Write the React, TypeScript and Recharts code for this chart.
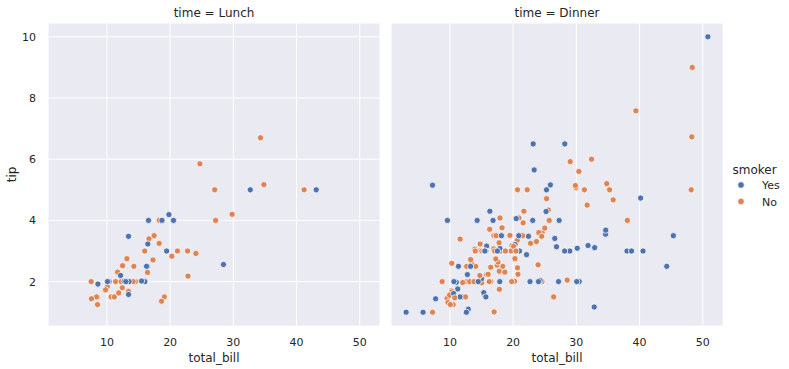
import React from 'react';
import { ScatterChart, Scatter, XAxis, YAxis, CartesianGrid } from 'recharts';

const lunchBill = [27.2, 22.76, 17.29, 19.44, 16.66, 10.07, 32.68, 15.98, 34.83, 13.03, 18.28, 24.71, 21.16,
  10.65, 12.43, 24.08, 11.69, 13.42, 14.26, 15.95, 12.48, 29.8, 8.52, 14.52, 11.38, 22.82, 19.08, 20.27, 11.17,
  12.26, 18.26, 8.51, 10.33, 14.15, 16.0, 13.16, 17.47, 34.3, 41.19, 27.05, 16.43, 8.35, 18.64, 11.87, 9.78, 7.51,
  19.81, 28.44, 15.48, 16.58, 7.56, 10.34, 43.11, 13.0, 13.51, 18.71, 12.74, 13.0, 16.4, 20.53, 16.47,
  12.16, 13.42, 8.58, 15.98, 13.42, 16.27, 10.09];
const lunchTip = [4.0, 3.0, 2.71, 3.0, 3.4, 1.83, 5.0, 2.03, 5.17, 2.0, 4.0, 5.85, 3.0,
  1.5, 1.8, 2.92, 2.31, 1.68, 2.5, 2.0, 2.52, 4.2, 1.48, 2.0, 2.0, 2.18, 1.5, 2.83, 1.5,
  2.0, 3.25, 1.25, 2.0, 2.0, 2.0, 2.75, 3.5, 6.7, 5.0, 5.0, 2.3, 1.5, 1.36, 1.63, 1.73, 2.0,
  4.19, 2.56, 2.02, 4.0, 1.44, 2.0, 5.0, 2.0, 2.0, 4.0, 2.01, 2.0, 2.5, 4.0, 3.23,
  2.2, 3.48, 1.92, 3.0, 1.58, 2.5, 2.0];
const lunchSmoker = ['No', 'No', 'No', 'Yes', 'No', 'No', 'Yes', 'No', 'No', 'No', 'No', 'No', 'No',
  'No', 'No', 'No', 'No', 'No', 'No', 'No', 'No', 'No', 'No', 'No', 'No', 'No', 'No', 'No', 'No',
  'No', 'No', 'No', 'No', 'No', 'Yes', 'No', 'No', 'No', 'No', 'No', 'No', 'No', 'No', 'No', 'No', 'No',
  'Yes', 'Yes', 'Yes', 'Yes', 'No', 'Yes', 'Yes', 'Yes', 'Yes', 'Yes', 'Yes', 'Yes', 'Yes', 'Yes', 'Yes',
  'Yes', 'Yes', 'Yes', 'No', 'Yes', 'Yes', 'Yes'];

const dinnerBill = [16.99, 10.34, 21.01, 23.68, 24.59, 25.29, 8.77, 26.88, 15.04, 14.78, 10.27, 35.26, 15.42, 18.43,
  14.83, 21.58, 10.33, 16.29, 16.97, 20.65, 17.92, 20.29, 15.77, 39.42, 19.82, 17.81, 13.37, 12.69, 21.7, 19.65,
  9.55, 18.35, 15.06, 20.69, 17.78, 24.06, 16.31, 16.93, 18.69, 31.27, 16.04, 17.46, 13.94, 9.68, 30.4, 18.29,
  22.23, 32.4, 28.55, 18.04, 12.54, 10.29, 34.81, 9.94, 25.56, 19.49, 38.01, 26.41, 11.24, 48.27, 20.29, 13.81,
  11.02, 18.29, 17.59, 20.08, 16.45, 3.07, 20.23, 15.01, 12.02, 17.07, 26.86, 25.28, 14.73, 10.51, 17.92,
  28.97, 22.49, 5.75, 16.32, 22.75, 40.17, 27.28, 12.03, 21.01, 12.46, 11.35, 15.38, 44.3, 22.42, 20.92, 15.36,
  20.49, 25.21, 18.24, 14.31, 14.0, 7.25, 38.07, 23.95, 25.71, 17.31, 29.93,
  14.07, 13.13, 17.26, 24.55, 19.77, 29.85, 48.17, 25.0, 13.39, 16.49, 21.5, 12.66, 16.21, 13.81, 17.51, 24.52,
  20.76, 31.71, 10.59, 10.63, 50.81, 15.81, 7.25, 31.85, 16.82, 32.9, 17.89, 14.48, 9.6, 34.63, 34.65, 23.33,
  45.35, 23.17, 40.55, 20.69, 20.9, 30.46, 18.15, 23.1, 15.69,
  26.59, 38.73, 24.27, 12.76, 30.06, 25.89, 48.33, 13.27, 28.17, 12.9, 28.15, 11.59, 7.74, 30.14,
  20.45, 13.28, 22.12, 24.01, 15.69, 11.61, 10.77, 15.53, 10.07, 12.6, 32.83, 35.83, 29.03, 27.18, 22.67, 17.82, 18.78];
const dinnerTip = [1.01, 1.66, 3.5, 3.31, 3.61, 4.71, 2.0, 3.12, 1.96, 3.23, 1.71, 5.0, 1.57, 3.0,
  3.02, 3.92, 1.67, 3.71, 3.5, 3.35, 4.08, 2.75, 2.23, 7.58, 3.18, 2.34, 2.0, 2.0, 4.3, 3.0,
  1.45, 2.5, 3.0, 2.45, 3.27, 3.6, 2.0, 3.07, 2.31, 5.0, 2.24, 2.54, 3.06, 1.32, 5.6, 3.0,
  5.0, 6.0, 2.05, 3.0, 2.5, 2.6, 5.2, 1.56, 4.34, 3.51, 3.0, 1.5, 1.76, 6.73, 3.21, 2.0,
  1.98, 3.76, 2.64, 3.15, 2.47, 1.0, 2.01, 2.09, 1.97, 3.0, 3.14, 5.0, 2.2, 1.25, 3.08,
  3.0, 3.5, 1.0, 4.3, 3.25, 4.73, 4.0, 1.5, 3.0, 1.5, 2.5, 3.0, 2.5, 3.48, 4.08, 1.64,
  4.06, 4.29, 3.76, 4.0, 3.0, 1.0, 4.0, 2.55, 4.0, 3.5, 5.07,
  2.5, 2.0, 2.74, 2.0, 2.0, 5.14, 5.0, 3.75, 2.61, 2.0, 3.5, 2.5, 2.0, 2.0, 3.0, 3.48,
  2.24, 4.5, 1.61, 2.0, 10.0, 3.16, 5.15, 3.18, 4.0, 3.11, 2.0, 2.0, 4.0, 3.55, 3.68, 5.65,
  3.5, 6.5, 3.0, 5.0, 3.5, 2.0, 3.5, 4.0, 1.5,
  3.41, 3.0, 2.03, 2.23, 2.0, 5.16, 9.0, 2.5, 6.5, 1.1, 3.0, 1.5, 1.44, 3.09,
  3.0, 2.72, 2.88, 2.0, 3.0, 3.39, 1.47, 3.0, 1.25, 1.0, 1.17, 4.67, 5.92, 2.0, 2.0, 1.75, 3.0];
const dinnerSmoker = ['No', 'No', 'No', 'No', 'No', 'No', 'No', 'No', 'No', 'No', 'No', 'No', 'No', 'No',
  'No', 'No', 'No', 'No', 'No', 'No', 'No', 'No', 'No', 'No', 'No', 'No', 'No', 'No', 'No', 'No',
  'No', 'No', 'No', 'No', 'No', 'No', 'No', 'No', 'No', 'No', 'No', 'No', 'No', 'No', 'No', 'No',
  'No', 'No', 'No', 'No', 'No', 'No', 'No', 'No', 'No', 'No', 'Yes', 'No', 'Yes', 'No', 'Yes', 'Yes',
  'Yes', 'Yes', 'No', 'No', 'No', 'Yes', 'No', 'Yes', 'No', 'No', 'Yes', 'Yes', 'No', 'No', 'Yes',
  'Yes', 'No', 'Yes', 'Yes', 'No', 'Yes', 'Yes', 'Yes', 'Yes', 'No', 'Yes', 'Yes', 'Yes', 'Yes', 'No', 'Yes',
  'Yes', 'Yes', 'No', 'Yes', 'No', 'No', 'No', 'No', 'No', 'No', 'No',
  'No', 'No', 'No', 'No', 'No', 'No', 'No', 'No', 'No', 'No', 'No', 'No', 'No', 'No', 'Yes', 'No',
  'No', 'No', 'Yes', 'Yes', 'Yes', 'Yes', 'Yes', 'Yes', 'Yes', 'Yes', 'Yes', 'Yes', 'Yes', 'Yes', 'Yes', 'Yes',
  'Yes', 'Yes', 'Yes', 'No', 'Yes', 'Yes', 'Yes', 'Yes', 'Yes',
  'Yes', 'Yes', 'Yes', 'Yes', 'Yes', 'Yes', 'No', 'Yes', 'Yes', 'Yes', 'Yes', 'Yes', 'Yes', 'Yes',
  'No', 'No', 'Yes', 'Yes', 'Yes', 'No', 'No', 'Yes', 'No', 'Yes', 'Yes', 'No', 'No', 'Yes', 'Yes', 'No', 'No'];

const xTicks = [10, 20, 30, 40, 50];
const yTicks = [2, 4, 6, 8, 10];
const smokerLevels = ['Yes', 'No'];
const palette: Record<string, string> = { Yes: '#4C72B0', No: '#DD8452' };

const FONT = 'DejaVu Sans, sans-serif';
const TEXT = '#262626';

const build = (b: number[], t: number[], s: string[]) => b.map((v, i) => ({ x: v, y: t[i], smoker: s[i] }));
const lunchData = build(lunchBill, lunchTip, lunchSmoker);
const dinnerData = build(dinnerBill, dinnerTip, dinnerSmoker);

const Dot = (props: any) => {
  const { cx, cy, payload } = props;
  if (cx == null || cy == null) return null;
  return <circle cx={cx} cy={cy} r={3.1} fill={palette[payload.smoker]} stroke="#ffffff" strokeWidth={0.75} />;
};

const Panel = ({ data, showY }: { data: any[]; showY: boolean }) => (
  <ScatterChart width={385} height={369} margin={{ top: 23, right: 5, bottom: 3, left: 0 }}>
    <CartesianGrid fill="#EAEAF2" fillOpacity={1} stroke="#ffffff" strokeWidth={1} />
    <XAxis
      type="number"
      dataKey="x"
      domain={[0.68, 53.2]}
      ticks={xTicks}
      allowDataOverflow
      axisLine={false}
      tickLine={false}
      tickSize={0}
      tickMargin={12}
      height={40}
      tick={{ fontSize: 11, fill: TEXT, fontFamily: FONT }}
      label={{ value: 'total_bill', position: 'insideBottom', offset: 4, style: { fontSize: 12, fill: TEXT, fontFamily: FONT } }}
    />
    <YAxis
      type="number"
      dataKey="y"
      domain={[0.55, 10.45]}
      ticks={yTicks}
      allowDataOverflow
      axisLine={false}
      tickLine={false}
      tickSize={0}
      tickMargin={12}
      width={48}
      tick={showY ? { fontSize: 11, fill: TEXT, fontFamily: FONT } : false}
      label={showY ? { value: 'tip', angle: -90, position: 'insideLeft', offset: 12, style: { fontSize: 12, fill: TEXT, fontFamily: FONT, textAnchor: 'middle' } } : undefined}
    />
    <Scatter data={data} isAnimationActive={false} shape={Dot} />
  </ScatterChart>
);

export default function App() {
  return (
    <div style={{ position: 'absolute', left: 0, top: 0, width: 789, height: 369, background: '#ffffff', fontFamily: FONT }}>
      <div style={{ position: 'absolute', left: 0, top: 0 }}>
        <Panel data={lunchData} showY={true} />
      </div>
      <div style={{ position: 'absolute', left: 343, top: 0 }}>
        <Panel data={dinnerData} showY={false} />
      </div>
      <svg width={789} height={369} style={{ position: 'absolute', left: 0, top: 0, pointerEvents: 'none' }}>
        <text x={214} y={17} textAnchor="middle" fontSize={12} fill={TEXT} fontFamily={FONT}>time = Lunch</text>
        <text x={557} y={17} textAnchor="middle" fontSize={12} fill={TEXT} fontFamily={FONT}>time = Dinner</text>
        <text x={754.5} y={174} textAnchor="middle" fontSize={12} fill={TEXT} fontFamily={FONT}>smoker</text>
        {smokerLevels.map((lv, i) => (
          <g key={lv}>
            <circle cx={741} cy={185 + i * 16.5} r={3.3} fill={palette[lv]} stroke="#ffffff" strokeWidth={0.75} />
            <text x={762} y={189.3 + i * 16.5} fontSize={11} fill={TEXT} fontFamily={FONT}>{lv}</text>
          </g>
        ))}
      </svg>
    </div>
  );
}
